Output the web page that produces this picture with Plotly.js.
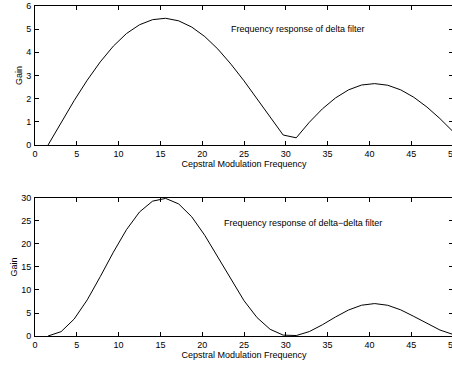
<!DOCTYPE html>
<html>
<head>
<meta charset="utf-8">
<script src="https://cdn.plot.ly/plotly-3.0.1.min.js"></script>
<style>
html,body{margin:0;padding:0;overflow:hidden;background:#fff;width:452px;height:369px;}
#chart{width:460px;height:369px;}
</style>
</head>
<body>
<div id="chart"></div>
<script>
// Cepstral modulation frequency (sample positions)
var freq = [1.5625, 3.125, 4.6875, 6.25, 7.8125, 9.375, 10.9375, 12.5, 14.0625, 15.625,
  17.1875, 18.75, 20.3125, 21.875, 23.4375, 25, 26.5625, 28.125, 29.6875, 31.25,
  32.8125, 34.375, 35.9375, 37.5, 39.0625, 40.625, 42.1875, 43.75, 45.3125, 46.875,
  48.4375, 50];
// Gain of delta filter
var deltaGain = [0, 0.98, 1.92, 2.80, 3.59, 4.27, 4.81, 5.19, 5.41, 5.47,
  5.36, 5.09, 4.68, 4.14, 3.49, 2.77, 2.00, 1.21, 0.43, 0.31,
  0.98, 1.56, 2.03, 2.38, 2.59, 2.65, 2.58, 2.38, 2.06, 1.64,
  1.14, 0.58];
// Gain of delta-delta filter
var deltaDeltaGain = [0, 0.95, 3.69, 7.86, 12.92, 18.22, 23.10, 26.96, 29.31, 29.91,
  28.71, 25.91, 21.87, 17.11, 12.20, 7.68, 4.00, 1.46, 0.19, 0.10,
  0.96, 2.44, 4.13, 5.65, 6.69, 7.05, 6.68, 5.68, 4.26, 2.70,
  1.30, 0.34];
var xTicks = [0, 5, 10, 15, 20, 25, 30, 35, 40, 45, 50];
var yTicksTop = [0, 1, 2, 3, 4, 5, 6];
var yTicksBottom = [0, 5, 10, 15, 20, 25, 30];
var xTitle = "Cepstral Modulation Frequency";
var yTitle = "Gain";
var note1 = "Frequency response of delta filter";
var note2 = "Frequency response of delta\u2212delta filter";

var FONT = "Liberation Sans, Arial, Helvetica, sans-serif";
var tickFont = {family: FONT, size: 9, color: "#000"};

function xa(anchor) {
  return {
    anchor: anchor, range: [0, 50], tickvals: xTicks, ticks: "inside", ticklen: 4,
    tickcolor: "#000", showline: true, linecolor: "#000", linewidth: 1, mirror: "ticks",
    showgrid: false, zeroline: false, tickfont: tickFont, ticklabelstandoff: 0,
    title: {text: xTitle, font: {family: FONT, size: 9, color: "#000"}, standoff: 1}
  };
}
function ya(anchor, domain, range, ticks) {
  return {
    anchor: anchor, domain: domain, range: range, tickvals: ticks, ticks: "inside", ticklen: 4,
    tickcolor: "#000", showline: true, linecolor: "#000", linewidth: 1, mirror: "ticks",
    showgrid: false, zeroline: false, tickfont: tickFont, ticklabelstandoff: 1,
    title: {text: yTitle, font: {family: FONT, size: 9, color: "#000"}, standoff: 2}
  };
}

var data = [
  {x: freq, y: deltaGain, type: "scatter", mode: "lines", line: {color: "#000", width: 1}, xaxis: "x", yaxis: "y", hoverinfo: "none"},
  {x: freq, y: deltaDeltaGain, type: "scatter", mode: "lines", line: {color: "#000", width: 1}, xaxis: "x2", yaxis: "y2", hoverinfo: "none"}
];

var layout = {
  width: 460, height: 369,
  margin: {l: 35, r: 7, t: 6, b: 33},
  paper_bgcolor: "#fff", plot_bgcolor: "#fff",
  showlegend: false,
  xaxis: xa("y"),
  yaxis: ya("x", [0.5788, 1], [0, 6], yTicksTop),
  xaxis2: xa("y2"),
  yaxis2: ya("x2", [0, 0.4182], [0, 30], yTicksBottom),
  annotations: [
    {text: note1, xref: "x", yref: "y", x: 23.2, y: 5.0, xanchor: "left", yanchor: "middle", showarrow: false,
     font: {family: FONT, size: 9, color: "#000"}},
    {text: note2, xref: "x2", yref: "y2", x: 22.4, y: 24.6, xanchor: "left", yanchor: "middle", showarrow: false,
     font: {family: FONT, size: 9, color: "#000"}}
  ]
};

Plotly.newPlot("chart", data, layout, {staticPlot: true, displayModeBar: false});
</script>
</body>
</html>
